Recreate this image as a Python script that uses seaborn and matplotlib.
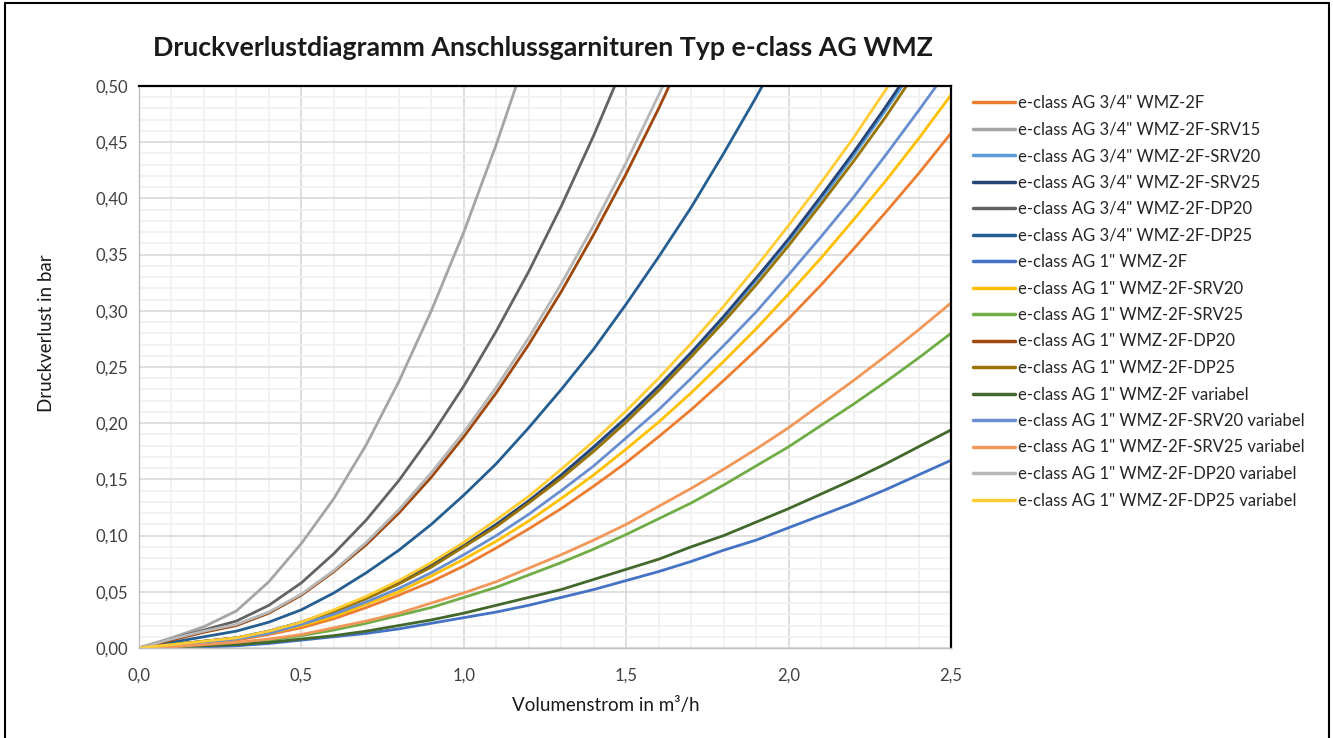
import numpy as np
import pandas as pd
import matplotlib
matplotlib.use('Agg')
import matplotlib.pyplot as plt
from matplotlib.ticker import MultipleLocator, FuncFormatter
from matplotlib.lines import Line2D
import seaborn as sns

#---------------------------------------------------------
# data (pressure loss in bar per flow in m3/h)
flow=[0.0, 0.1, 0.2, 0.3, 0.4, 0.5, 0.6, 0.7, 0.8, 0.9, 1.0, 1.1, 1.2,
      1.3, 1.4, 1.5, 1.6, 1.7, 1.8, 1.9, 2.0, 2.1, 2.2, 2.3, 2.4, 2.5]

names=['e-class AG 3/4" WMZ-2F', 'e-class AG 3/4" WMZ-2F-SRV15', 'e-class AG 3/4" WMZ-2F-SRV20',
       'e-class AG 3/4" WMZ-2F-SRV25', 'e-class AG 3/4" WMZ-2F-DP20', 'e-class AG 3/4" WMZ-2F-DP25',
       'e-class AG 1" WMZ-2F', 'e-class AG 1" WMZ-2F-SRV20', 'e-class AG 1" WMZ-2F-SRV25',
       'e-class AG 1" WMZ-2F-DP20', 'e-class AG 1" WMZ-2F-DP25', 'e-class AG 1" WMZ-2F variabel',
       'e-class AG 1" WMZ-2F-SRV20 variabel', 'e-class AG 1" WMZ-2F-SRV25 variabel',
       'e-class AG 1" WMZ-2F-DP20 variabel', 'e-class AG 1" WMZ-2F-DP25 variabel']

cmap=['#ED7D31', '#A5A5A5', '#5B9BD5', '#264478', '#636363', '#255E91', '#4472C4', '#FFC000',
      '#70AD47', '#9E480E', '#997300', '#43682B', '#698ED0', '#F1975A', '#B7B7B7', '#FFCD33']

dp_34_2f=[0, .002, .004, .007, .012, .018, .026, .036, .047, .059, .073, .089, .106,
          .124, .144, .165, .188, .212, .238, .265, .293, .323, .355, .388, .422, .458]
dp_34_srv15=[0, .009, .019, .033, .059, .093, .133, .181, .237, .300, .370, .448, .533]
dp_34_srv20=[0, .003, .006, .009, .015, .023, .033, .044, .058, .073, .091, .110, .130,
             .153, .177, .204, .232, .262, .293, .327, .362, .399, .438, .479, .521]
dp_34_srv25=[0, .003, .006, .009, .015, .023, .033, .045, .058, .074, .091, .110, .131,
             .154, .179, .205, .233, .263, .295, .329, .364, .402, .441, .482, .525]
dp_34_dp20=[0, .008, .016, .024, .038, .058, .084, .114, .149, .189, .233, .282, .335,
            .393, .456, .524]
dp_34_dp25=[0, .005, .010, .015, .023, .034, .049, .067, .087, .110, .136, .164, .196,
            .230, .266, .306, .348, .392, .440, .490, .543]
dp_1_2f=[0, .001, .001, .002, .004, .007, .010, .013, .017, .022, .027, .032, .038,
         .045, .052, .060, .068, .077, .087, .096, .107, .118, .129, .141, .154, .167]
dp_1_srv20=[0, .002, .005, .008, .013, .020, .028, .039, .050, .064, .079, .095, .113,
            .133, .154, .177, .201, .227, .255, .284, .315, .347, .381, .416, .453, .492]
dp_1_srv25=[0, .001, .002, .004, .007, .011, .016, .022, .029, .036, .045, .054, .065,
            .076, .088, .101, .115, .129, .145, .162, .179, .198, .217, .237, .258, .280]
dp_1_dp20=[0, .007, .014, .020, .031, .047, .068, .092, .120, .152, .188, .227, .270,
           .317, .368, .422, .480, .542]
dp_1_dp25=[0, .003, .006, .009, .014, .022, .032, .044, .057, .072, .090, .108, .129,
           .151, .175, .201, .229, .259, .290, .323, .358, .395, .433, .473, .516]
dp_1_2f_var=[0, .001, .002, .003, .005, .008, .011, .015, .020, .025, .031, .038, .045,
             .052, .061, .070, .079, .090, .100, .112, .124, .137, .150, .164, .179, .194]
dp_1_srv20_var=[0, .002, .005, .008, .013, .021, .030, .041, .053, .067, .083, .100, .119,
                .140, .162, .187, .212, .240, .269, .299, .332, .366, .401, .439, .478, .518]
dp_1_srv25_var=[0, .001, .003, .005, .008, .012, .018, .024, .031, .040, .049, .059, .071,
                .083, .096, .110, .126, .142, .159, .177, .196, .217, .238, .260, .283, .307]
dp_1_dp20_var=[0, .008, .015, .021, .032, .048, .069, .094, .123, .156, .192, .232, .276,
               .324, .376, .432, .492, .555]
dp_1_dp25_var=[0, .003, .006, .009, .015, .023, .034, .046, .060, .076, .094, .114, .135,
               .159, .184, .211, .240, .271, .304, .339, .376, .414, .454, .497, .541]

series=[dp_34_2f, dp_34_srv15, dp_34_srv20, dp_34_srv25, dp_34_dp20, dp_34_dp25,
        dp_1_2f, dp_1_srv20, dp_1_srv25, dp_1_dp20, dp_1_dp25, dp_1_2f_var,
        dp_1_srv20_var, dp_1_srv25_var, dp_1_dp20_var, dp_1_dp25_var]

#--------------------------------------------------------
rows=[]
for name, vals in zip(names, series):
	for q, v in zip(flow, vals):
		rows.append({'flow': q, 'dp': v, 'typ': name})
df=pd.DataFrame(rows)

#--------------------------------------------------------
sns.set_style('white')
plt.rcParams['font.family']=['Lato', 'DejaVu Sans']

fig=plt.figure(figsize=(13.33, 7.38), dpi=100)
ax=fig.add_axes([139/1333, 1-648/738, (951-139)/1333, (648-86)/738])

ax=sns.lineplot(data=df, x='flow', y='dp', hue='typ', hue_order=names,
                palette=dict(zip(names, cmap)), estimator=None, sort=False,
                linewidth=2.0, ax=ax)

#adjust
ax.set_xlim(0, 2.5)
ax.set_ylim(0, 0.5)
ax.xaxis.set_major_locator(MultipleLocator(0.5))
ax.xaxis.set_minor_locator(MultipleLocator(0.1))
ax.yaxis.set_major_locator(MultipleLocator(0.05))
ax.yaxis.set_minor_locator(MultipleLocator(0.01))
ax.grid(which='minor', color='#f0f0f0', linewidth=1.2)
ax.grid(which='major', color='#d9d9d9', linewidth=1.2)
ax.set_axisbelow(True)
ax.xaxis.set_major_formatter(FuncFormatter(lambda v, p: f'{v:.1f}'.replace('.', ',')))
ax.yaxis.set_major_formatter(FuncFormatter(lambda v, p: f'{v:.2f}'.replace('.', ',')))
ax.tick_params(axis='both', which='both', length=0, labelsize=12, colors='#404040')
ax.tick_params(axis='x', pad=14)
ax.tick_params(axis='y', pad=8)
for s in ['top', 'right']:
	ax.spines[s].set_color('black')
	ax.spines[s].set_linewidth(1.6)
for s in ['left', 'bottom']:
	ax.spines[s].set_color('#bfbfbf')
	ax.spines[s].set_linewidth(1.0)
ax.set_xlabel('')
ax.set_ylabel('')

fig.text(543/1333, 1-48/738, 'Druckverlustdiagramm Anschlussgarnituren Typ e-class AG WMZ',
         ha='center', va='center', fontsize=19.3, weight='bold', color='#1a1a1a')
fig.text(47/1333, 1-333/738, 'Druckverlust in bar', rotation=90, ha='center', va='center',
         fontsize=13.5, color='#1a1a1a')
fig.text(606/1333, 1-705/738, 'Volumenstrom in m³/h', ha='center', va='center',
         fontsize=13.5, color='#1a1a1a')

#legend
handles=[Line2D([0], [0], color=c, linewidth=2.5) for c in cmap]
ax.legend(handles, names, loc='upper left', bbox_to_anchor=(958/1333, 1-80/738),
          bbox_transform=fig.transFigure, frameon=False, fontsize=12,
          handlelength=2.5, handletextpad=0.2, labelspacing=0.63, labelcolor='#262626')

#outer frame
for xs, ys in [([5/1333, 5/1333], [0, 1-3/738]), ([5/1333, 1329/1333], [1-3/738, 1-3/738]),
               ([1329/1333, 1329/1333], [1-3/738, 0])]:
	fig.add_artist(Line2D(xs, ys, color='black', linewidth=1.5, transform=fig.transFigure))

plt.savefig('out.png', dpi=100)
plt.close()
